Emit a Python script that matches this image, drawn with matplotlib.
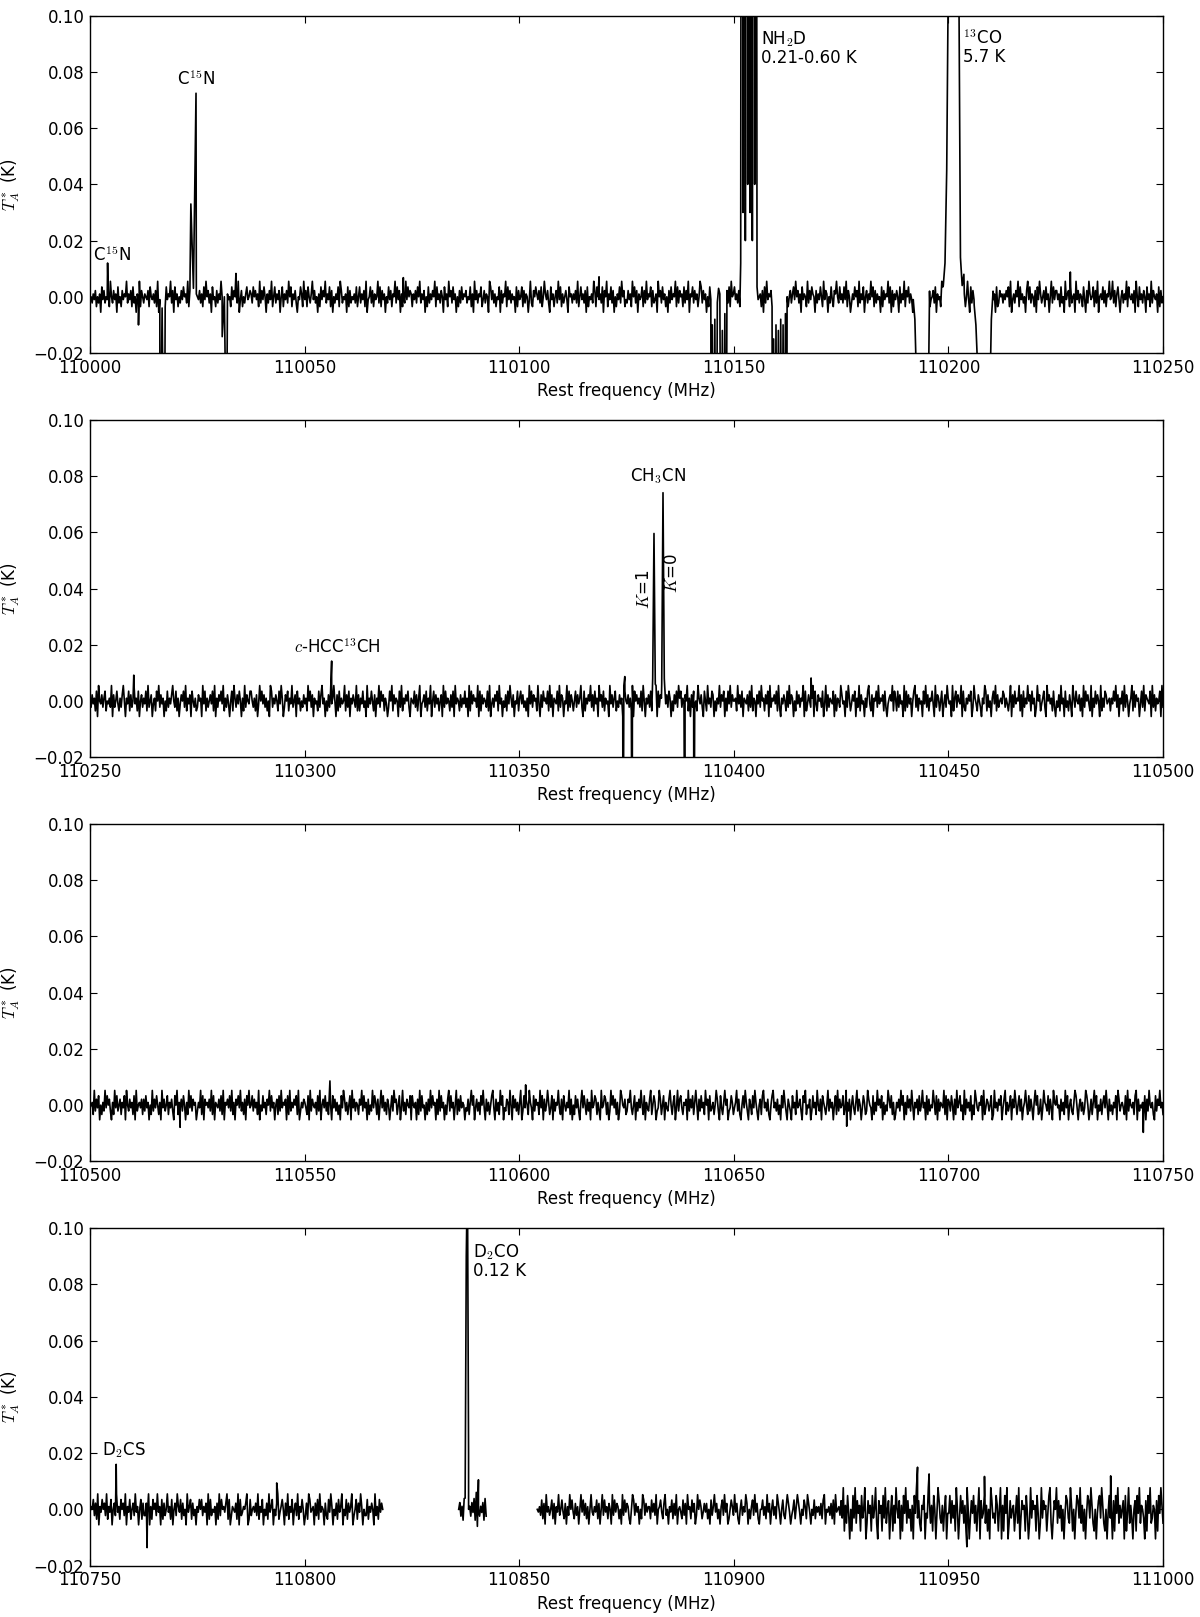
import numpy as np
import matplotlib
matplotlib.use('Agg')
import matplotlib.pyplot as plt

plt.rcParams['mathtext.fontset'] = 'cm'
plt.rcParams['font.size'] = 12

# frequency range of each panel (MHz)
panel_ranges = [(110000, 110250), (110250, 110500), (110500, 110750), (110750, 111000)]
yticks = [-0.02, 0.0, 0.02, 0.04, 0.06, 0.08, 0.10]

# brightness (mK) coded by each noise digit 0..9
noise_levels_mK = [-7.5, -5.5, -3.5, -2.2, -1.0, 0.0, 1.0, 2.2, 3.5, 5.5]

# baseline noise, one digit per channel
noise_p1 = """
45364725361847354629537461835274659364728351649275
36547285463729146537284659371846253748563927458316
54736284957361845273649581736452847563914725368457
63857462937485163749258364715826473958264731548629
47285369473516284759364827153648297354618273546382
58364729145837264593827461538472659384716253948576
26473859364715283647592846375184629573846152738465
73548261947365824736519847362548173659284736451827
45827365149327586473825964731846257394826357418563
64739258463718254639728546381759264837152648395724
37462958371645827394658273461957384625173846592837
56283749165837462598374615284736594728365147382956
84637259461738452697384562718394657283461593728465
25736849573618465293748651736485294761538427695384
63849275136485729364815736495827364518274659381726
47518364927583641759382645173869245738164529837465
58263749158473625941837462598371645827395461823756
36475829146375928463517948365271849635728461593847
74628351946728356194736528417396458273915648372659
45937268415736492854637195284637518462937546182735
"""
noise_p2 = """
53746281954736825463917358426379516482735946281573
64829357146285937461528364795382614758392647185362
37561948263574829163758492637415829637485162937548
85362714958473625198364752849613758264935718462537
46295837164528379461527384695172836459273816475392
72648351936485271649385726413859274651839264758316
54837269145738264915837462571938465273819465273648
36192847563918274653829146375829461537284963715482
68473526194837562941738564829371654829376154928375
25837469318264759372846195738264519473682537461985
47362918574638295164738256491837625947386152748396
83647592617384529647318529463871526493758162849375
56294738165472839265174839562748193657482931647528
39476152847365918247536918427563814927365481726539
74518396247581639274516389427165839465728314675928
62837451928374615893726451849372658419376258147396
45192683754918326475813964275316498273516849273564
87364259173846592718364957284613957246831957462831
53729461835274196385472619385742916384751926387456
26485937164829375146928375614839276548193726458193
"""
noise_p3 = """
45629374815263948573162948357264819537462819356472
73846152937485261947358264731859264738516294837561
36492817564739281654738291657483926175849362718594
58374629153846275938461572839465718293647582913647
64281937546283915748362951847362518497362581947365
27593846172539486271594836275148396725814936275481
85461729384516273948561729384615279384615927384651
43726958147362859417362589417362958143762951847362
69138475296418375629481735962481736594271853649271
52847316948527361945872631945872613958472613985472
37694258163749528164379258613497258164379526814937
84265719374826951738462957183462597318426957134862
46937215849631752849631572894637215894637251849631
75318462945731869254713846295371864259374615829374
58249637158426937514862397541826395748162539748261
26473958162847395164728359461827354962817365492817
63851729468351927463815297436581924763581294637581
47926358174962583714695283741695823714965382741965
84517362948157326984157362498513726948153726849517
35264819735642819375462891735462817395462183759462
"""
noise_p4a = """
46583729164857392648157394628573916482573946158273
37491628573946182735946281573964827351946827351648
58364719283546172938564792813654729183465791283564
73926481537294681537924685173926481573926485137298
45617382946517328496153728469153827469135827496153
3826475193628475
"""
noise_p4b = "57362849156374829153647283"
noise_p4c = """
54638271946358271649358427163958427361594837261594
36482715938462751938476251938476215983746152983746
62847391568427935164827391564283719562847139586247
47251836947251683947125863947215836497152683947215
58362947158362974158326974135826974153862974153826
4637289154637281945637
"""
noise_p4d = """
73916284051839274618359027461835920746183925704816
29537061849273516084937216580439726185049732615804
48273619503847261950374826159073482615097342861590
61849027356148290375618402937561840293756148920375
92736150487329615048739261504873962150478396215048
35071849263570814926305718492653071849236507184962
"""

# observed spans: (f_start, f_end, noise digits, noise scale)
segments_p1 = [(110000, 110250, noise_p1, 1.0)]
segments_p2 = [(110250, 110500, noise_p2, 1.0)]
segments_p3 = [(110500, 110750, noise_p3, 0.95)]
segments_p4 = [(110750, 110818.2, noise_p4a, 1.0),
               (110835.9, 110842.3, noise_p4b, 1.1),
               (110854.2, 110925, noise_p4c, 0.95),
               (110925, 111000, noise_p4d, 1.4)]

# lines and frequency-switching ghosts: (f_start, f_end, T values in K)
features_p1 = [
    (110004.1, 110004.1, [0.012]),
    (110011.3, 110011.3, [-0.010]),
    (110016.3, 110017.3, [-0.08, -0.004, -0.08]),
    (110023.5, 110024.7, [0.033, 0.003, 0.0724]),
    (110030.8, 110031.8, [-0.0142, 0.0, -0.06]),
    (110034.0, 110034.0, [0.0083]),
    (110073.0, 110073.0, [0.0068]),
    (110118.6, 110118.6, [0.0071]),
    (110144.7, 110148.2, [-0.1, -0.01, -0.1, -0.008, -0.1, -0.002, 0.003,
                          0.001, -0.1, -0.012, -0.1, -0.006, -0.1]),
    (110151.6, 110155.4, [0.012, 0.5, 0.03, 0.5, 0.02, 0.5, 0.04, 0.5,
                          0.03, 0.5, 0.02, 0.5, 0.04, 0.5, 0.01]),
    (110159.0, 110162.3, [-0.1, -0.015, -0.1, -0.01, -0.1, -0.012, -0.1,
                          -0.008, -0.1, -0.01, -0.1, -0.006, -0.1]),
    (110191.8, 110195.6, [-0.001, -0.008, -0.03, -0.2, -0.3, -0.3, -0.3,
                          -0.3, -0.2, -0.05, 0.002]),
    (110198.8, 110203.6, [0.004, 0.012, 0.045, 0.12, 0.8, 3.5, 5.7, 4.0,
                          1.2, 0.12, 0.014, 0.004, 0.008]),
    (110206.0, 110210.4, [-0.003, -0.01, -0.025, -0.2, -0.3, -0.3, -0.3,
                          -0.3, -0.3, -0.04, -0.008, 0.002]),
    (110228.4, 110228.4, [0.0088]),
]
features_p2 = [
    (110260.2, 110260.2, [0.0092]),
    (110306.3, 110306.3, [0.0142]),
    (110374.2, 110374.2, [-0.08]),
    (110374.6, 110374.6, [0.0087]),
    (110376.3, 110376.3, [-0.08]),
    (110381.1, 110381.7, [0.008, 0.0596, 0.006]),
    (110383.2, 110383.8, [0.006, 0.0741, 0.008]),
    (110388.6, 110388.6, [-0.08]),
    (110390.7, 110390.7, [-0.08]),
    (110418.0, 110418.0, [0.0082]),
]
features_p3 = [
    (110521.0, 110521.0, [-0.0079]),
    (110555.9, 110555.9, [0.0086]),
    (110601.5, 110601.5, [0.0072]),
    (110676.3, 110676.3, [-0.0075]),
    (110745.4, 110745.4, [-0.0097]),
]
features_p4 = [
    (110756.1, 110756.1, [0.016]),
    (110763.3, 110763.3, [-0.0136]),
    (110793.5, 110793.5, [0.0094]),
    (110837.4, 110838.2, [0.004, 0.09, 0.12, 0.02]),
    (110840.5, 110840.5, [0.0105]),
    (110942.8, 110942.8, [0.015]),
    (110945.5, 110945.5, [0.0126]),
    (110954.3, 110954.3, [-0.0133]),
    (110958.4, 110958.4, [0.0117]),
    (110987.8, 110987.8, [0.0119]),
]


def build_spectrum(segments, features):
    levels = np.array(noise_levels_mK) * 1e-3
    freq, temp = [], []
    for f0, f1, digits, scale in segments:
        d = np.array([int(c) for c in "".join(digits.split())])
        freq.append(np.linspace(f0, f1, len(d)))
        temp.append(levels[d] * scale)
    freq = np.concatenate(freq)
    temp = np.concatenate(temp)
    for f0, f1, vals in features:
        keep = (freq < f0) | (freq > f1)
        freq = np.concatenate([freq[keep], np.linspace(f0, f1, len(vals))])
        temp = np.concatenate([temp[keep], vals])
    order = np.argsort(freq)
    freq, temp = freq[order], temp[order]
    # break the trace where no data were taken
    gaps = np.where(np.diff(freq) > 2)[0] + 1
    freq = np.insert(freq, gaps, np.nan)
    temp = np.insert(temp, gaps, np.nan)
    return freq, temp


spectra = [build_spectrum(segments_p1, features_p1),
           build_spectrum(segments_p2, features_p2),
           build_spectrum(segments_p3, features_p3),
           build_spectrum(segments_p4, features_p4)]

fig = plt.figure(figsize=(12, 16.17), dpi=100)
bottoms = [0.7817, 0.5317, 0.2818, 0.0318]
axes = []
for i, (f, t) in enumerate(spectra):
    ax = fig.add_axes([0.075, bottoms[i], 0.8942, 0.2086])
    ax.plot(f, t, color='k', lw=1.2)
    ax.set_xlim(*panel_ranges[i])
    ax.set_ylim(-0.02, 0.10)
    ax.set_yticks(yticks)
    ax.set_xticks(np.arange(panel_ranges[i][0], panel_ranges[i][1] + 1, 50))
    ax.ticklabel_format(axis='x', useOffset=False, style='plain')
    ax.tick_params(direction='in', top=True, right=True, length=5, width=0.8, pad=4)
    ax.set_xlabel('Rest frequency (MHz)')
    ax.set_ylabel(r'$T_A^*$ (K)')
    ax.yaxis.set_label_coords(-0.0634, 0.5)
    for s in ax.spines.values():
        s.set_linewidth(1.0)
    axes.append(ax)

ax1, ax2, ax3, ax4 = axes
ax1.text(110005.2, 0.0128, r'C$^{15}$N', ha='center', va='baseline')
ax1.text(110024.6, 0.0755, r'C$^{15}$N', ha='center', va='baseline')
ax1.text(110156.3, 0.0953, 'NH$_2$D\n0.21-0.60 K', ha='left', va='top', linespacing=1.0)
ax1.text(110203.5, 0.0953, '$^{13}$CO\n5.7 K', ha='left', va='top', linespacing=1.0)

ax2.text(110382.3, 0.0783, r'CH$_3$CN', ha='center', va='baseline')
ax2.text(110379.1, 0.0397, r'$K$=1', ha='center', va='center', rotation=90)
ax2.text(110385.7, 0.0454, r'$K$=0', ha='center', va='center', rotation=90)
ax2.text(110307.7, 0.0172, r'$c$-HCC$^{13}$CH', ha='center', va='baseline')

ax4.text(110757.9, 0.0193, r'D$_2$CS', ha='center', va='baseline')
ax4.text(110839.2, 0.095, 'D$_2$CO\n0.12 K', ha='left', va='top', linespacing=1.0)

fig.savefig('out.png', dpi=100)
